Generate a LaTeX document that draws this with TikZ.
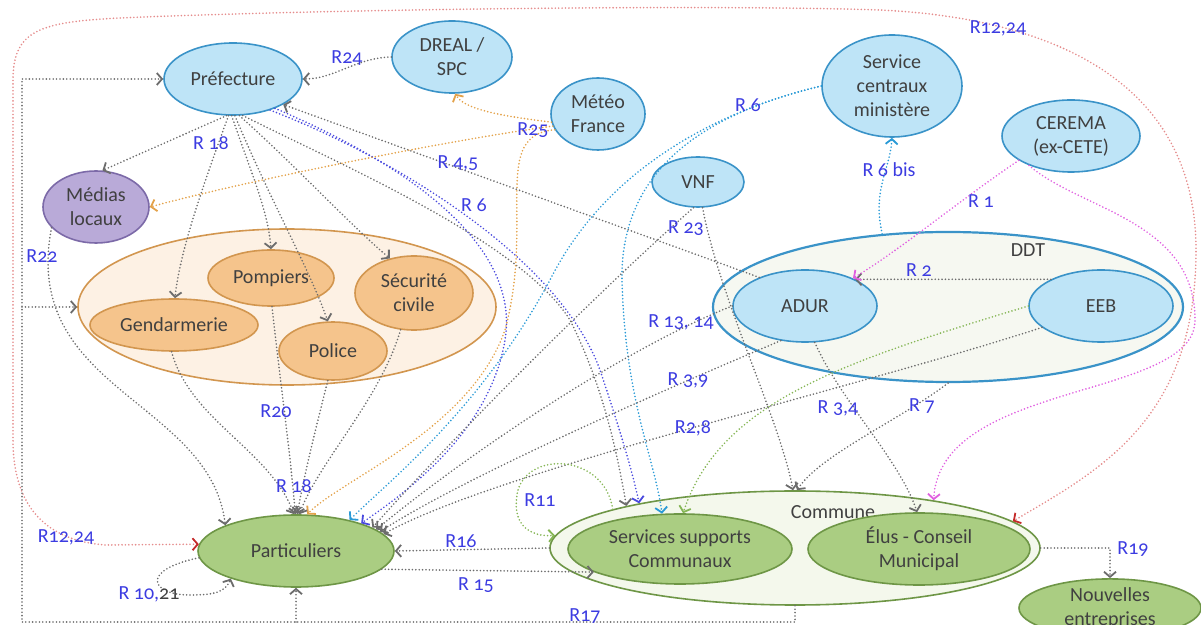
\documentclass[tikz,border=0pt]{standalone}
\usepackage{fontspec}
\setmainfont{Carlito}
\newfontfamily\lblfont{Carlito}[Numbers=OldStyle]
\usepackage{tikz}
\usetikzlibrary{shapes.geometric,arrows.meta,positioning,calc}

\definecolor{txt}{HTML}{404040}
\definecolor{bleuF}{HTML}{BEE4F7}
\definecolor{bleuD}{HTML}{3A93C8}
\definecolor{violF}{HTML}{B9AAD8}
\definecolor{violD}{HTML}{7C6AA8}
\definecolor{orF}{HTML}{F5C48C}
\definecolor{orD}{HTML}{D2964F}
\definecolor{grpF}{HTML}{FDF1E4}
\definecolor{vertF}{HTML}{AACD82}
\definecolor{vertD}{HTML}{6E9646}
\definecolor{comF}{HTML}{F4F8EC}
\definecolor{ddtF}{HTML}{F6F8F1}
\definecolor{lblB}{HTML}{3C3CE1}
\definecolor{lienG}{HTML}{6C6C6C}
\definecolor{orangeL}{HTML}{E3A24A}
\definecolor{cyanL}{HTML}{2A9AD6}
\definecolor{bleuL}{HTML}{4A4ADE}
\definecolor{vertL}{HTML}{86B656}
\definecolor{magL}{HTML}{E060E0}
\definecolor{rougeL}{HTML}{E58C8C}
\definecolor{rougeD}{HTML}{C42A2A}

\tikzset{
  ent/.style={ellipse, draw, line width=0.8pt, inner sep=0pt, align=center,
    font=\fontsize{10}{12}\selectfont, text=txt},
  taille/.style 2 args={minimum width=#1*0.5pt, minimum height=#2*0.5pt},
  bleu/.style={ent, fill=bleuF, draw=bleuD},
  viol/.style={ent, fill=violF, draw=violD},
  orange/.style={ent, fill=orF, draw=orD},
  vert/.style={ent, fill=vertF, draw=vertD},
  pointe/.style={-{Straight Barb[length=2.6pt,width=6pt]}},
  rel/.style={line width=0.9pt, line cap=round, dash pattern=on 0pt off 1.7pt, draw=#1, pointe},
  rel/.default=lienG,
  lbl/.style={text=lblB, font=\lblfont\fontsize{10}{12}\selectfont, inner sep=1pt},
}

\begin{document}
\begin{tikzpicture}[x=0.5pt, y=-0.5pt]
\useasboundingbox (0,0) rectangle (1201,625);
\clip (0,0) rectangle (1201,625);

% groupes
\node[ent, fill=grpF, draw=orD, taille={418}{156}] (secours) at (287,307) {};
\node[ent, fill=ddtF, draw=bleuD, line width=1.1pt, taille={470}{150}] (ddt) at (948,307) {};
\node[ent, fill=comF, draw=vertD, taille={490}{114}] (commune) at (795,548) {};
\node[text=txt, font=\fontsize{10}{12}\selectfont] (tddt) at (1028,250) {DDT};
\node[text=txt, font=\fontsize{10}{12}\selectfont] (tcom) at (833,512) {Commune};

% acteurs
\node[bleu, taille={138}{72}] (pref) at (233,79) {Préfecture};
\node[bleu, taille={120}{72}] (dreal) at (452,57) {DREAL /\\SPC};
\node[bleu, taille={94}{72}] (meteo) at (598,114) {Météo\\France};
\node[bleu, taille={92}{50}] (vnf) at (698,182) {VNF};
\node[bleu, taille={140}{102}] (servc) at (892,86) {Service\\centraux\\ministère};
\node[bleu, taille={138}{72}] (cerema) at (1071,136) {CEREMA\\(ex-CETE)};
\node[viol, taille={106}{72}] (medias) at (96,207) {Médias\\locaux};
\node[orange, taille={126}{56}] (pomp) at (271,278) {Pompiers};
\node[orange, taille={168}{52}] (gend) at (174,325) {Gendarmerie};
\node[orange, taille={108}{58}] (police) at (333,351) {Police};
\node[orange, taille={118}{74}] (secu) at (414,293) {Sécurité\\civile};
\node[bleu, taille={144}{72}] (adur) at (805,306) {ADUR};
\node[bleu, taille={144}{72}] (eeb) at (1101,306) {EEB};
\node[vert, taille={224}{70}] (supports) at (680,549) {Services supports\\Communaux};
\node[vert, taille={222}{72}] (elus) at (919,549) {Élus - Conseil\\Municipal};
\node[vert, taille={196}{72}] (part) at (296,551) {Particuliers};
\node[vert, taille={182}{56}] (nouv) at (1110,608) {Nouvelles\\entreprises};

% Préfecture
\draw[rel] (pref.-100) -- (medias.80);
\draw[rel] (pref.-97) .. controls (205,180) and (180,250) .. (gend.88);
\draw[rel] (pref.-92) .. controls (250,170) and (268,210) .. (pomp.90);
\draw[rel] (pref.-87) .. controls (270,200) and (310,270) .. (police.100);
\draw[rel] (pref.-80) .. controls (300,170) and (345,220) .. (secu.125);
\draw[rel] (pref.-75) .. controls (330,160) and (520,240) .. (570,320) .. controls (600,380) and (615,440) .. (commune.166.7);
\draw[rel=bleuL] (pref.-40) .. controls (400,160) and (560,260) .. (600,370) .. controls (620,430) and (632,470) .. (commune.164.6);
\draw[rel=bleuL] (pref.-35) .. controls (420,170) and (520,250) .. (505,340) .. controls (490,430) and (410,490) .. (part.23);
\draw[rel] (dreal.180) .. controls (355,58) and (335,79) .. (pref.east);
\draw[rel] (adur.148) -- (pref.-27);

% Météo France
\draw[rel=orangeL] (meteo.190) .. controls (520,118) and (465,112) .. (dreal.-85);
\draw[rel=orangeL] (meteo.195) .. controls (450,140) and (250,180) .. (medias.east);
\draw[rel=orangeL] (meteo.200) .. controls (490,135) and (535,220) .. (505,330) .. controls (470,430) and (340,480) .. (part.73);

% Service centraux
\draw[rel=cyanL] (servc.west) .. controls (720,110) and (620,160) .. (622,280) .. controls (625,400) and (655,460) .. (supports.117);
\draw[rel=cyanL] (servc.west) .. controls (700,115) and (600,180) .. (550,280) .. controls (480,410) and (390,480) .. (part.30);
\draw[rel=cyanL] (ddt.132) .. controls (872,190) and (890,170) .. (servc.-90);

% VNF, DDT
\draw[rel] (vnf.-100) .. controls (600,290) and (460,430) .. (part.17);
\draw[rel] (vnf.-80) .. controls (720,300) and (780,420) .. (commune.92);
\draw[rel] (adur.west) .. controls (620,350) and (460,460) .. (part.15);
\draw[rel] (adur.-125) .. controls (640,400) and (460,480) .. (part.13);
\draw[rel] (adur.-75) .. controls (840,400) and (900,460) .. (elus.93);
\draw[rel] (eeb.200) .. controls (850,390) and (500,470) .. (part.11);
\draw[rel] (eeb.152) -- (adur.28);
\draw[rel=vertL] (eeb.west) .. controls (850,360) and (720,400) .. (supports.85);
\draw[rel] (ddt.-90) .. controls (900,420) and (820,455) .. (commune.88);

% CEREMA
\draw[rel=magL] (cerema.205) .. controls (960,200) and (900,250) .. (adur.30);
\draw[rel=magL] (cerema.215) .. controls (1080,210) and (1195,220) .. (1195,320) .. controls (1195,400) and (940,380) .. (commune.19);

% R12,24
\draw[rel=rougeL, {Straight Barb[length=2.6pt,width=6pt,color=rougeD]}-{Straight Barb[length=2.6pt,width=6pt,color=rougeD]}]
  (part.176) -- (105,545) .. controls (40,540) and (13,500) .. (13,440) -- (13,80)
  .. controls (13,30) and (40,22) .. (120,18) .. controls (300,10) and (700,4) .. (880,10)
  .. controls (1050,18) and (1196,80) .. (1196,250) .. controls (1196,420) and (1100,470) .. (commune.7.5);

% secours -> particuliers
\draw[rel] (gend.-95) .. controls (190,420) and (270,450) .. (part.93);
\draw[rel] (pomp.-88) .. controls (280,380) and (290,450) .. (part.91);
\draw[rel] (police.-100) .. controls (318,420) and (305,470) .. (part.88);
\draw[rel] (secu.-110) .. controls (380,400) and (320,460) .. (part.85);
\draw[rel] (medias.205) .. controls (20,390) and (210,400) .. (part.160);

% Commune
\draw[rel] (commune.west) -- (part.east);
\draw[rel] (part.-12) -- (supports.195);
\draw[rel=vertL] (commune.168.7) .. controls (605,455) and (530,450) .. (518,490) .. controls (510,525) and (530,537) .. (commune.177);
\draw[rel] (commune.east) -| (nouv.north);
\draw[rel] (part.184) .. controls (140,570) and (150,595) .. (190,595) .. controls (215,595) and (225,592) .. (part.203);

% R17
\coordinate (coinbd) at (22,622);
\coordinate (jgrp) at (22,307);
\coordinate (jpart) at (296,622);
\draw[rel] (commune.south) |- (coinbd) |- (pref.west);
\draw[rel] (jgrp) -- (secours.west);
\draw[rel] (jpart) -- (part.south);

% etiquettes
\node[lbl] (lR24) at (347,58) {R24};
\node[lbl] (lR1224a) at (998,28) {R12,24};
\node[lbl] (lR18a) at (211,143) {R 18};
\node[lbl] (lR25) at (533,130) {R25};
\node[lbl] (lR6a) at (748,105) {R 6};
\node[lbl] (lR45) at (458,163) {R 4,5};
\node[lbl] (lR6b) at (474,205) {R 6};
\node[lbl] (lR6bis) at (889,170) {R 6 bis};
\node[lbl] (lR1) at (981,201) {R 1};
\node[lbl] (lR23) at (686,228) {R 23};
\node[lbl] (lR2) at (919,270) {R 2};
\node[lbl] (lR22) at (42,256) {R22};
\node[lbl] (lR1314) at (681,322) {R 13, 14};
\node[lbl] (lR39) at (688,380) {R 3,9};
\node[lbl] (lR34) at (838,408) {R 3,4};
\node[lbl] (lR7) at (922,406) {R 7};
\node[lbl] (lR28) at (693,428) {R2,8};
\node[lbl] (lR20) at (276,411) {R20};
\node[lbl] (lR18b) at (294,486) {R 18};
\node[lbl] (lR11) at (540,500) {R11};
\node[lbl] (lR1224b) at (66,537) {R12,24};
\node[lbl] (lR16) at (461,541) {R16};
\node[lbl] (lR15) at (476,585) {R 15};
\node[lbl] (lR1021) at (149,594) {R 10,\textcolor{txt}{21}};
\node[lbl] (lR19) at (1133,549) {R19};
\node[lbl] (lR17) at (585,616) {R17};
\end{tikzpicture}
\end{document}
